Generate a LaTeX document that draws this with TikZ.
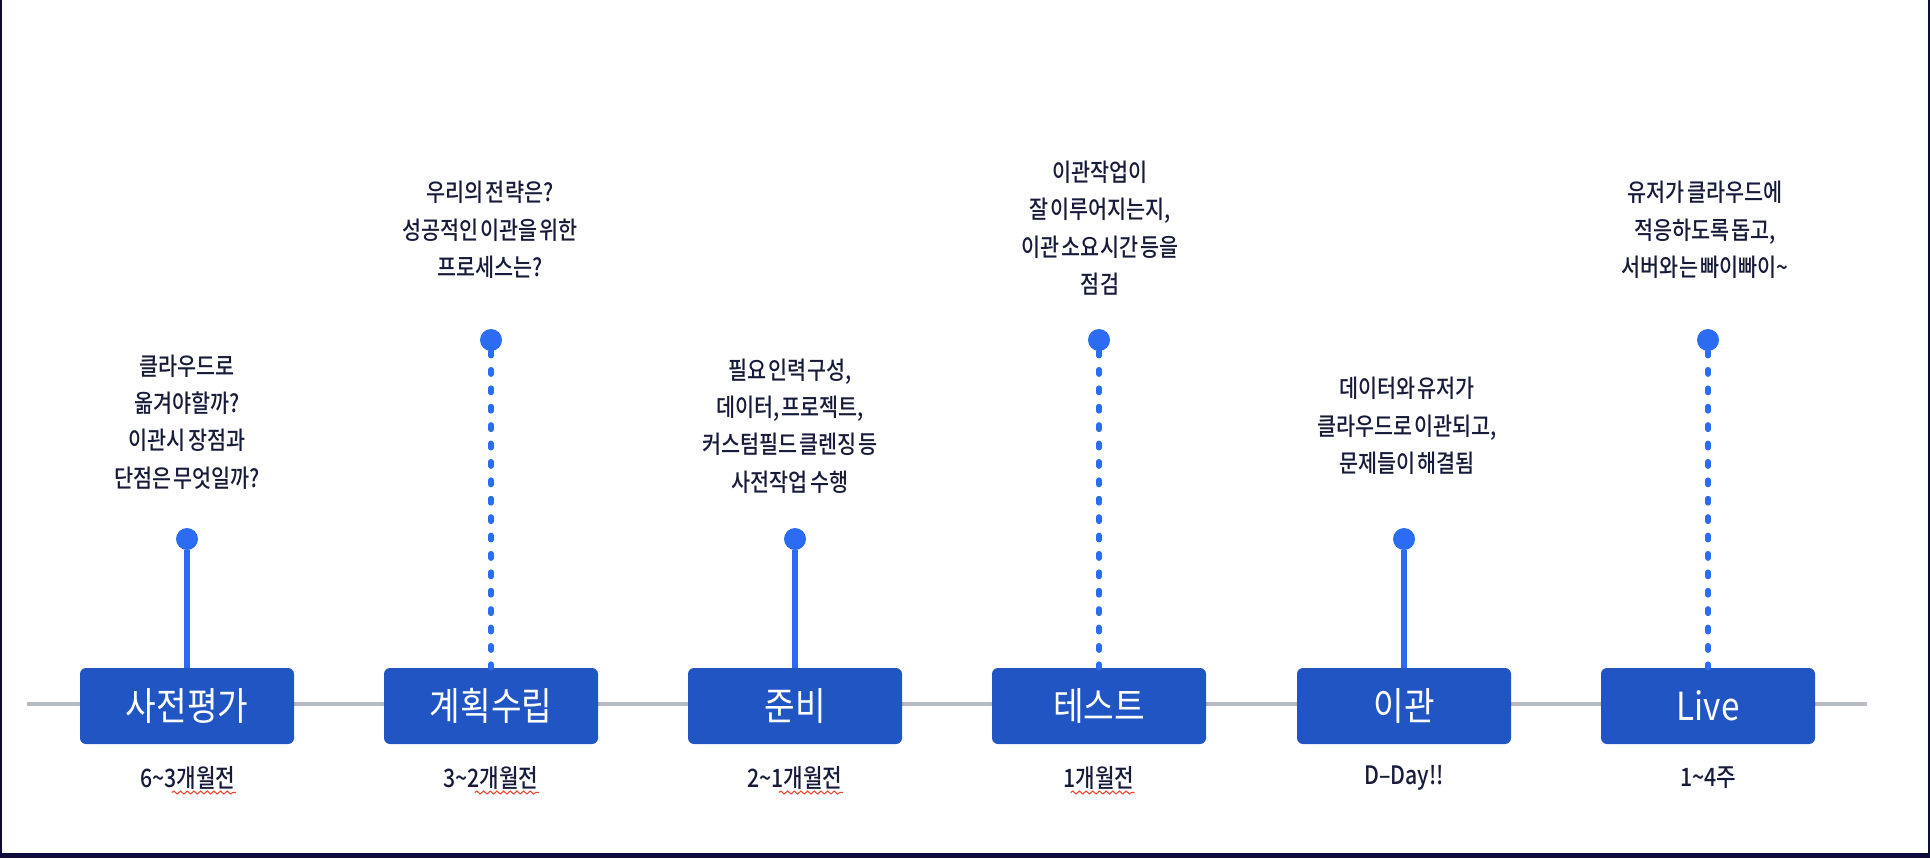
\documentclass[tikz,border=0pt]{standalone}
\usepackage{fontspec}
\usepackage{tikz}
\usepackage{xcolor}
\usetikzlibrary{shapes,arrows,decorations.pathmorphing}
\setmainfont{Noto Sans CJK KR Medium}[FakeStretch=0.84,WordSpace=0.45]
\newfontfamily\phasefont{Noto Sans CJK KR}[FakeStretch=0.86]

\definecolor{boxblue}{RGB}{34,85,196}
\definecolor{dotblue}{RGB}{43,108,242}
\definecolor{linegray}{RGB}{183,187,196}
\definecolor{textnavy}{RGB}{22,27,58}
\definecolor{framenavy}{RGB}{12,12,62}
\definecolor{squigred}{RGB}{232,70,48}

\begin{document}
\begin{tikzpicture}[x=0.75pt,y=-0.75pt,
    phase/.style={rectangle,rounded corners=4.5pt,fill=boxblue,text=white,
        minimum width=160.5pt,minimum height=57pt,inner sep=0pt,
        font=\phasefont\fontsize{29}{34}\selectfont},
    pin/.style={circle,fill=dotblue,minimum size=16.5pt,inner sep=0pt},
    stem/.style={dotblue,line width=4.3pt},
    dotstem/.style={dotblue,line width=4pt,line cap=round,dash pattern=on 3.4pt off 10.4pt},
    note/.style={align=center,text=textnavy,inner sep=0pt,font=\fontsize{18.5}{28}\selectfont},
    when/.style={text=textnavy,inner sep=0pt,font=\fontsize{19}{22}\selectfont},
    squig/.style={squigred,line width=0.8pt,decorate,decoration={snake,amplitude=1.1pt,segment length=5pt}}]
                \useasboundingbox (0,0) rectangle (1930,858);
                % window frame
                \fill[framenavy] (0,0) rectangle (2,858);
                \fill[framenavy] (1928,0) rectangle (1930,858);
                \fill[framenavy] (0,853) rectangle (1930,858);

                % time line
                \coordinate (tl) at (27,704);
                \coordinate (tr) at (1867,704);
                \draw[linegray,line width=3pt] (tl) -- (tr);

                % phase boxes
                \node[phase] (p1) at (187,706) {사전평가};
                \node[phase] (p2) at (491,706) {계획수립};
                \node[phase] (p3) at (795,706) {준비};
                \node[phase] (p4) at (1099,706) {테스트};
                \node[phase] (p5) at (1404,706) {이관};
                \node[phase] (p6) at (1708,706) {Live};

                % pins, low and high
                \node[pin] (d1) at (187,539) {};
                \node[pin] (d2) at (491,340) {};
                \node[pin] (d3) at (795,539) {};
                \node[pin] (d4) at (1099,340) {};
                \node[pin] (d5) at (1404,539) {};
                \node[pin] (d6) at (1708,340) {};
                \draw[stem] (d1) -- (p1);
                \draw[dotstem] (d2.south) -- (p2.north);
                \draw[stem] (d3) -- (p3);
                \draw[dotstem] (d4.south) -- (p4.north);
                \draw[stem] (d5) -- (p5);
                \draw[dotstem] (d6.south) -- (p6.north);

                % notes above the pins
                \node[note] (n1) at (187,422) {클라우드로\\옮겨야할까?\\이관시 장점과\\단점은 무엇일까?};
                \node[note] (n2) at (490,230) {우리의 전략은?\\성공적인 이관을 위한\\프로세스는?};
                \node[note] (n3) at (790,426) {필요 인력구성,\\데이터, 프로젝트,\\커스텀필드 클렌징 등\\사전작업 수행};
                \node[note] (n4) at (1100,228) {이관작업이\\잘 이루어지는지,\\이관 소요시간 등을\\점검};
                \node[note] (n5) at (1407,426) {데이터와 유저가\\클라우드로 이관되고,\\문제들이 해결됨};
                \node[note] (n6) at (1705,230) {유저가 클라우드에\\적응하도록 돕고,\\서버와는 빠이빠이\textasciitilde};

                % dates under the boxes
                \node[when] (w1) at (188,778) {6\textasciitilde3개월전};
                \node[when] (w2) at (491,778) {3\textasciitilde2개월전};
                \node[when] (w3) at (795,778) {2\textasciitilde1개월전};
                \node[when] (w4) at (1099,778) {1개월전};
                \node[when] (w5) at (1404,778) {D--Day!!};
                \node[when] (w6) at (1708,778) {1\textasciitilde4주};

                % spell check marks
                \draw[squig] ([xshift=-48pt,yshift=-2pt]w1.south east) -- ([yshift=-2pt]w1.south east);
                \draw[squig] ([xshift=-48pt,yshift=-2pt]w2.south east) -- ([yshift=-2pt]w2.south east);
                \draw[squig] ([xshift=-48pt,yshift=-2pt]w3.south east) -- ([yshift=-2pt]w3.south east);
                \draw[squig] ([xshift=-48pt,yshift=-2pt]w4.south east) -- ([yshift=-2pt]w4.south east);
\end{tikzpicture}
\end{document}
